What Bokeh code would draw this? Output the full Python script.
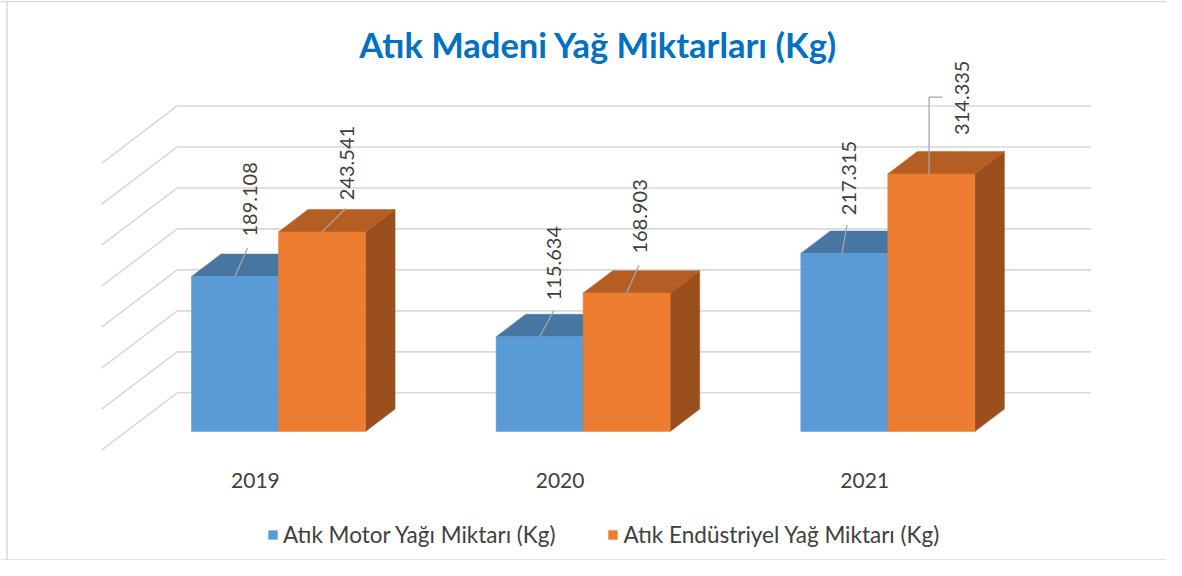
import math
from bokeh.plotting import figure
from bokeh.models import Legend, LegendItem, Label, Span
from bokeh.core.properties import value
from bokeh.embed import file_html
from bokeh.resources import INLINE

# ---------------- data ----------------
categories = ["2019", "2020", "2021"]
motor = [189108, 115634, 217315]
industrial = [243541, 168903, 314335]
series_names = ["Atık Motor Yağı Miktarı (Kg)", "Atık Endüstriyel Yağ Miktarı (Kg)"]
grid_values = [0, 50000, 100000, 150000, 200000, 250000, 300000, 350000]
title_text = "Atık Madeni Yağ Miktarları (Kg)"

# ---------------- styles / geometry ----------------
W, H = 1166, 560
PAGE_OFF = 0
WALL_LEFT_PX = 176.7      # x of back-wall left edge
ZERO_PX = 392.3           # y of back-wall zero line
CAT_PX = 304.65           # pixels per category
VAL_PX = 0.8195e-3        # pixels per kg
DEPTH_DX_PX, DEPTH_DY_PX = -75.6, 57.3
D_FRONT, D_BACK = 0.675, 0.284
BAR_W = 0.2856

FRONT_COLORS = ["#5B9BD5", "#ED7D31"]
TOP_COLORS = ["#4676A1", "#B55E24"]
SIDE_COLORS = ["#3E6890", "#9A4F1D"]
GRID_COLOR = "#D9D9D9"
TEXT_COLOR = "#404040"
FONT = "Lato"

# label / leader offsets in px relative to bar front-top centre (x right, y down)
label_offsets = [
    [(15.5, -40), (14, -36.4), (4.3, -38.2)],
    [(25, -31.7), (13, -39.5), (31, -39)],
]
leader_offsets = [
    [[(0, 0), (12.5, -28.4)], [(0, 0), (14, -26)], [(-2.3, 0), (2.7, -28.2)]],
    [[(0, 0), (23.5, -23.4)], [(0, 0), (12.3, -27.8)], [(-2.2, 0), (-2.2, -76.7), (11.2, -76.7)]],
]

x_start = (PAGE_OFF - WALL_LEFT_PX) / CAT_PX
x_end = (PAGE_OFF + W - WALL_LEFT_PX) / CAT_PX
y_end = (ZERO_PX - PAGE_OFF) / VAL_PX
y_start = (ZERO_PX - PAGE_OFF - H) / VAL_PX

DX = DEPTH_DX_PX / CAT_PX
DY = -DEPTH_DY_PX / VAL_PX


def px2x(X):
    return (X - WALL_LEFT_PX) / CAT_PX


def px2y(Y):
    return (ZERO_PX - Y) / VAL_PX


def dxp(px):
    return px / CAT_PX


def dyp(px):
    return -px / VAL_PX


p = figure(width=W, height=H, x_range=(x_start, x_end), y_range=(y_start, y_end),
           output_backend="svg", toolbar_location=None,
           x_axis_location=None, y_axis_location=None, min_border=0)
p.xgrid.visible = False
p.ygrid.visible = False
p.outline_line_color = None
p.background_fill_color = "white"
p.border_fill_color = "white"

# ---------------- walls ----------------
gx0, gx1 = 0.0, float(len(categories))
p.multi_line(xs=[[gx0, gx1] for g in grid_values], ys=[[g, g] for g in grid_values],
             line_color=GRID_COLOR, line_width=1.6)
p.multi_line(xs=[[gx0, gx0 + DX] for g in grid_values], ys=[[g, g + DY] for g in grid_values],
             line_color=GRID_COLOR, line_width=1.6)

# ---------------- bars ----------------
series = [motor, industrial]
front_renderers = []
for s, vals in enumerate(series):
    lefts, rights, tops, bottoms = [], [], [], []
    top_xs, top_ys, side_xs, side_ys = [], [], [], []
    for i, v in enumerate(vals):
        x0 = i + 0.5 - BAR_W + s * BAR_W
        x1 = x0 + BAR_W
        lefts.append(x0 + D_FRONT * DX)
        rights.append(x1 + D_FRONT * DX)
        bottoms.append(D_FRONT * DY)
        tops.append(v + D_FRONT * DY)
        top_xs.append([x0 + D_FRONT * DX, x1 + D_FRONT * DX, x1 + D_BACK * DX, x0 + D_BACK * DX])
        top_ys.append([v + D_FRONT * DY, v + D_FRONT * DY, v + D_BACK * DY, v + D_BACK * DY])
        side_xs.append([x1 + D_FRONT * DX, x1 + D_FRONT * DX, x1 + D_BACK * DX, x1 + D_BACK * DX])
        side_ys.append([D_FRONT * DY, v + D_FRONT * DY, v + D_BACK * DY, D_BACK * DY])
    p.patches(xs=side_xs, ys=side_ys, fill_color=SIDE_COLORS[s], line_color=SIDE_COLORS[s], line_width=0.5)
    p.patches(xs=top_xs, ys=top_ys, fill_color=TOP_COLORS[s], line_color=TOP_COLORS[s], line_width=0.5)
    r = p.quad(left=lefts, right=rights, bottom=bottoms, top=tops,
               fill_color=FRONT_COLORS[s], line_color=FRONT_COLORS[s], line_width=0.5)
    front_renderers.append(r)

# ---------------- data labels ----------------
lx, ly, lt = [], [], []
leader_xs, leader_ys = [], []
for s, vals in enumerate(series):
    for i, v in enumerate(vals):
        x0 = i + 0.5 - BAR_W + s * BAR_W
        cx = x0 + BAR_W / 2 + D_FRONT * DX
        cy = v + D_FRONT * DY
        ox, oy = label_offsets[s][i]
        lx.append(cx + dxp(ox))
        ly.append(cy + dyp(oy))
        lt.append(f"{v:,}".replace(",", "."))
        pts = leader_offsets[s][i]
        leader_xs.append([cx + dxp(a) for a, b in pts])
        leader_ys.append([cy + dyp(b) for a, b in pts])

p.multi_line(xs=leader_xs, ys=leader_ys, line_color="#A6A6A6", line_width=1.3)
p.text(x=lx, y=ly, text=lt, angle=math.pi / 2, text_align="left", text_baseline="middle",
       text_font=value(FONT), text_font_size="20px", text_color=TEXT_COLOR)

# ---------------- category labels ----------------
cat_x = [i + 0.5 + DX + dxp(1.5) for i in range(len(categories))]
cat_y = [DY + dyp(30.5) for _ in categories]
p.text(x=cat_x, y=cat_y, text=categories, text_align="center", text_baseline="alphabetic",
       text_font=value(FONT), text_font_size="21px", text_color=TEXT_COLOR)

# ---------------- title ----------------
p.add_layout(Label(x=px2x(598), y=px2y(44), text=title_text, text_align="center",
                   text_baseline="alphabetic", text_font=FONT, text_font_size="34.5px",
                   text_font_style="bold", text_color="#0070C0"))

# ---------------- legend ----------------
legend = Legend(items=[LegendItem(label=series_names[k], renderers=[front_renderers[k]]) for k in range(2)],
                orientation="horizontal", location=(267, 12), glyph_width=11, glyph_height=11,
                label_standoff=5, spacing=52, padding=0, margin=0,
                border_line_color=None, background_fill_alpha=0,
                label_text_font=FONT, label_text_font_size="22.5px", label_text_color=TEXT_COLOR)
p.add_layout(legend)

# ---------------- chart border ----------------
p.add_layout(Span(location=px2x(6.5), dimension="height", line_color=GRID_COLOR, line_width=1.5))
p.add_layout(Span(location=px2y(H - 0.5), dimension="width", line_color=GRID_COLOR, line_width=1.5))
p.add_layout(Span(location=px2y(1.0), dimension="width", line_color=GRID_COLOR, line_width=1.5))

open("out.html", "w").write(file_html(p, INLINE))
